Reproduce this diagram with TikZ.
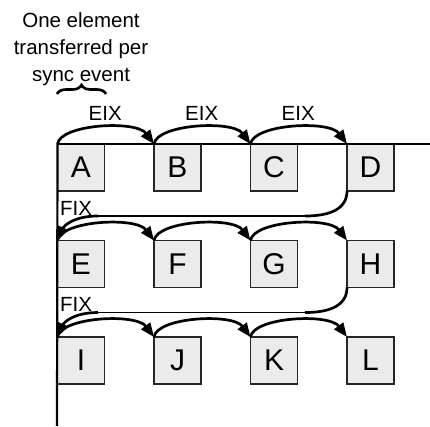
\documentclass[tikz,border=0pt]{standalone}
\usepackage{fontspec}
\setmainfont{Liberation Sans}
\usetikzlibrary{arrows.meta,decorations.pathreplacing}
\begin{document}
\begin{tikzpicture}[x=1pt,y=1pt,
  box/.style={draw=black!85, line width=1.5pt, fill=black!8, minimum size=47pt,
    inner sep=0pt, outer sep=0pt, font=\fontsize{30}{30}\selectfont},
  hop/.style={line width=2.7pt, -{Triangle[length=14pt,width=11pt]}},
  curl/.style={line width=2.7pt},
  lbl/.style={font=\fontsize{20.5}{27}\selectfont, inner sep=0pt},
  rule/.style={line width=1.3pt}]
\useasboundingbox (0,0) rectangle (430,-426);

% boxes
\node[box] (A) at (81,-167.5) {A};
\node[box] (B) at (177.5,-167.5) {B};
\node[box] (C) at (274,-167.5) {C};
\node[box] (D) at (370.5,-167.5) {D};
\node[box] (E) at (81,-264) {E};
\node[box] (F) at (177.5,-264) {F};
\node[box] (G) at (274,-264) {G};
\node[box] (H) at (370.5,-264) {H};
\node[box] (I) at (81,-360.5) {I};
\node[box] (J) at (177.5,-360.5) {J};
\node[box] (K) at (274,-360.5) {K};
\node[box] (L) at (370.5,-360.5) {L};

% axes
\coordinate (hr) at (430,-144);
\coordinate (vb) at (57,-426);
\draw[rule] (A.north west) -- (hr);
\draw[line width=2.2pt] (A.north west) -- (vb);

% caption and brace
\node[lbl, align=center, anchor=north] (note) at (81,-12)
  {One element\\transferred per\\sync event};
\coordinate (brl) at (57,-94);
\coordinate (brr) at (106,-94);
\draw[decorate, decoration={brace, amplitude=9pt}, line width=2.6pt] (brl) -- (brr);

% EIX hops
\foreach \s/\t in {A/B,B/C,C/D,E/F,F/G,G/H,I/J,J/K,K/L}
  \draw[hop] (\s.north west) .. controls +(3,20) and +(-18,24) .. (\t.north west);
\node[lbl] (eix1) at (105.25,-113) {EIX};
\node[lbl] (eix2) at (201.75,-113) {EIX};
\node[lbl] (eix3) at (298.25,-113) {EIX};

% FIX returns
\coordinate (f1r) at (305,-216);
\coordinate (f1l) at (98,-216);
\draw[curl] (D.south west) .. controls +(0,-18) and +(25,0) .. (f1r);
\draw[rule] (f1r) -- (f1l);
\draw[hop] (f1l) .. controls +(-25,0) and +(6,14) .. (E.north west);
\node[lbl, anchor=base west] (fix1) at (60,-215) {FIX};

\coordinate (f2r) at (305,-312.5);
\coordinate (f2l) at (98,-312.5);
\draw[curl] (H.south west) .. controls +(0,-18) and +(25,0) .. (f2r);
\draw[rule] (f2r) -- (f2l);
\draw[hop] (f2l) .. controls +(-25,0) and +(6,14) .. (I.north west);
\node[lbl, anchor=base west] (fix2) at (60,-311.5) {FIX};
\end{tikzpicture}
\end{document}
